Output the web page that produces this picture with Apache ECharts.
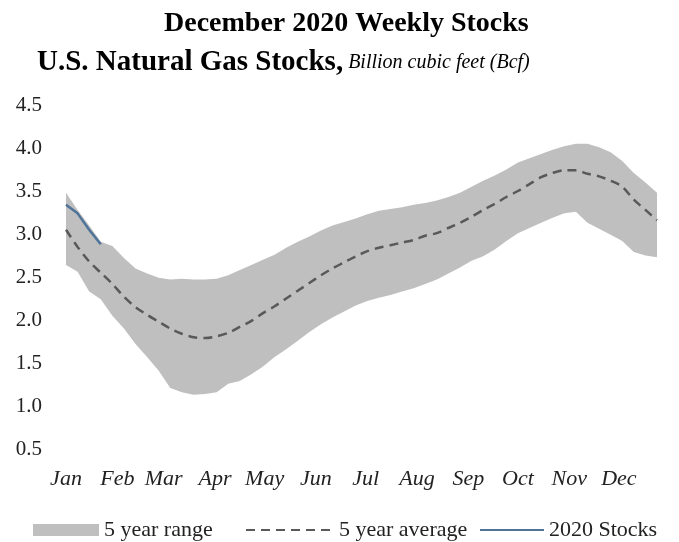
<!DOCTYPE html>
<html>
<head>
<meta charset="utf-8">
<title>U.S. Natural Gas Stocks</title>
<script src="https://cdn.jsdelivr.net/npm/echarts@6/dist/echarts.min.js"></script>
<style>
  html, body { margin: 0; padding: 0; background: #ffffff; }
  #chart { width: 679px; height: 542px; }
</style>
</head>
<body>
<div id="chart"></div>
<script>
// Weekly working gas in storage (thousand Bcf), one value per week starting 1 Jan
const rangeLow = [2.64, 2.56, 2.33, 2.24, 2.05, 1.90, 1.72, 1.57, 1.41, 1.21,
  1.16, 1.13, 1.14, 1.16, 1.26, 1.29, 1.37, 1.46, 1.57, 1.66,
  1.76, 1.86, 1.95, 2.03, 2.10, 2.17, 2.22, 2.26, 2.29, 2.33,
  2.37, 2.42, 2.47, 2.54, 2.61, 2.69, 2.74, 2.82, 2.92, 3.01,
  3.07, 3.13, 3.19, 3.24, 3.26, 3.13, 3.06, 2.99, 2.92, 2.79,
  2.75, 2.73];
const rangeHigh = [3.48, 3.28, 3.10, 2.91, 2.86, 2.72, 2.60, 2.54, 2.49, 2.47,
  2.48, 2.47, 2.47, 2.48, 2.52, 2.58, 2.64, 2.70, 2.76, 2.84,
  2.91, 2.97, 3.04, 3.10, 3.14, 3.18, 3.23, 3.27, 3.29, 3.31,
  3.34, 3.36, 3.39, 3.43, 3.48, 3.55, 3.62, 3.68, 3.75, 3.83,
  3.88, 3.93, 3.98, 4.02, 4.05, 4.05, 4.01, 3.95, 3.85, 3.71,
  3.60, 3.48];
const fiveYearAvg = [3.05, 2.85, 2.68, 2.55, 2.42, 2.27, 2.15, 2.06, 1.98, 1.90,
  1.84, 1.80, 1.79, 1.81, 1.85, 1.92, 1.99, 2.08, 2.16, 2.25,
  2.34, 2.43, 2.52, 2.60, 2.67, 2.74, 2.80, 2.84, 2.87, 2.90,
  2.93, 2.98, 3.01, 3.07, 3.13, 3.20, 3.28, 3.35, 3.43, 3.50,
  3.58, 3.66, 3.71, 3.74, 3.74, 3.70, 3.67, 3.62, 3.55, 3.40,
  3.28, 3.16];
const stocks2020 = [3.34, 3.24, 3.05, 2.88];

const monthNames = ['Jan', 'Feb', 'Mar', 'Apr', 'May', 'Jun',
  'Jul', 'Aug', 'Sep', 'Oct', 'Nov', 'Dec'];
const yTicks = { min: 0.5, max: 4.5, step: 0.5 };

// Daily calendar for the x axis; weekly points sit on every 7th day
const DAY = 86400000;
const startUTC = Date.UTC(2021, 0, 1);
const dayCount = (rangeHigh.length - 1) * 7 + 1;
const days = [];
for (let d = 0; d < dayCount; d++) {
  days.push(new Date(startUTC + d * DAY).toISOString().slice(0, 10));
}
const weekly = (arr) => arr.map((v, i) => [i * 7, v]);
const bandSpan = rangeHigh.map((v, i) => +(v - rangeLow[i]).toFixed(3));

const serif = '"Liberation Serif", "DejaVu Serif", serif';
const legendText = { fontFamily: serif, fontSize: 22, color: '#222' };
const chart = echarts.init(document.getElementById('chart'), null, { renderer: 'canvas' });

chart.setOption({
  animation: false,
  backgroundColor: '#ffffff',
  title: [
    {
      text: 'December 2020 Weekly Stocks',
      left: 159,
      top: 5,
      textStyle: { fontFamily: serif, fontSize: 28, fontWeight: 'bold', color: '#000' }
    },
    {
      text: '{b|U.S. Natural Gas Stocks,} {i|Billion cubic feet (Bcf)}',
      left: 32,
      top: 43,
      textStyle: {
        fontWeight: 'normal',
        rich: {
          b: { fontFamily: serif, fontSize: 29, fontWeight: 'bold', color: '#000' },
          i: { fontFamily: serif, fontSize: 20, fontStyle: 'italic', fontWeight: 'normal', color: '#000' }
        }
      }
    }
  ],
  grid: { left: 66, right: 22, top: 105, bottom: 93, containLabel: false },
  // one legend block per entry so each key can have its own width and place
  legend: [
    {
      data: [{ name: '5 year range', icon: 'rect' }],
      left: 28, top: 514,
      itemWidth: 66, itemHeight: 12,
      textStyle: legendText
    },
    {
      data: [{ name: '5 year average', itemStyle: { opacity: 0 } }],
      left: 240, top: 514,
      itemWidth: 88, itemHeight: 12,
      textStyle: legendText
    },
    {
      data: [{ name: '2020 Stocks', itemStyle: { opacity: 0 } }],
      left: 474, top: 514,
      itemWidth: 64, itemHeight: 12,
      textStyle: legendText
    }
  ],
  xAxis: {
    type: 'category',
    data: days,
    boundaryGap: false,
    axisLine: { show: false },
    axisTick: { show: false },
    splitLine: { show: false },
    axisLabel: {
      interval: (idx, val) => val.slice(8, 10) === '01',
      formatter: (val) => monthNames[+val.slice(5, 7) - 1],
      fontFamily: serif,
      fontStyle: 'italic',
      fontSize: 22,
      color: '#222',
      margin: 19
    }
  },
  yAxis: {
    type: 'value',
    min: yTicks.min,
    max: yTicks.max,
    interval: yTicks.step,
    axisLine: { show: false },
    axisTick: { show: false },
    splitLine: { show: false },
    axisLabel: {
      formatter: (v) => v.toFixed(1),
      fontFamily: serif,
      fontSize: 21,
      color: '#222',
      margin: 24
    }
  },
  series: [
    {
      name: 'lower',
      type: 'line',
      stack: 'band',
      data: weekly(rangeLow),
      symbol: 'none',
      lineStyle: { width: 0, opacity: 0 },
      areaStyle: { opacity: 0 },
      silent: true
    },
    {
      name: '5 year range',
      type: 'line',
      stack: 'band',
      data: weekly(bandSpan),
      symbol: 'none',
      itemStyle: { color: '#bfbfbf' },
      lineStyle: { width: 0, opacity: 0 },
      areaStyle: { color: '#bfbfbf', opacity: 1 },
      silent: true
    },
    {
      name: '5 year average',
      type: 'line',
      data: weekly(fiveYearAvg),
      symbol: 'none',
      smooth: 0.3,
      itemStyle: { color: '#595959' },
      lineStyle: { color: '#595959', width: 2.5, type: [9, 6] },
      z: 3
    },
    {
      name: '2020 Stocks',
      type: 'line',
      data: weekly(stocks2020),
      symbol: 'none',
      itemStyle: { color: '#4f7399' },
      lineStyle: { color: '#4f7399', width: 2.5 },
      z: 4
    }
  ]
});
</script>
</body>
</html>
